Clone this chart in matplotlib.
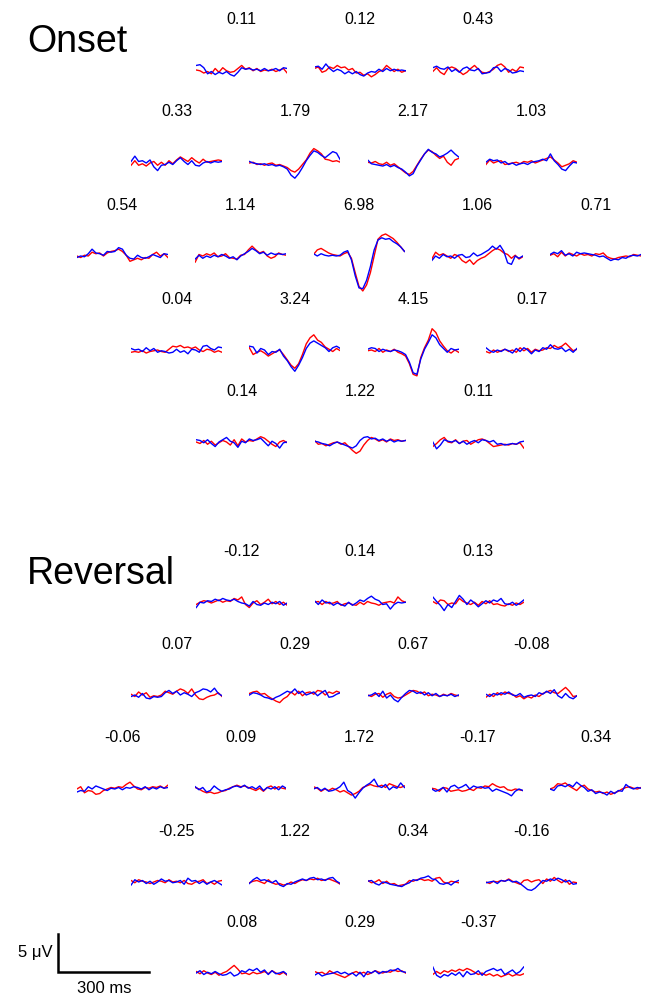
import matplotlib
matplotlib.use('Agg')
import matplotlib.pyplot as plt
import numpy as np

plt.rcParams['font.family'] = ['Liberation Sans', 'DejaVu Sans']

# time base of every trace (ms)
t = np.linspace(0, 300, 25)

onset_labels = ['0.11', '0.12', '0.43',
                '0.33', '1.79', '2.17', '1.03',
                '0.54', '1.14', '6.98', '1.06', '0.71',
                '0.04', '3.24', '4.15', '0.17',
                '0.14', '1.22', '0.11']

reversal_labels = ['-0.12', '0.14', '0.13',
                   '0.07', '0.29', '0.67', '-0.08',
                   '-0.06', '0.09', '1.72', '-0.17', '0.34',
                   '-0.25', '1.22', '0.34', '-0.16',
                   '0.08', '0.29', '-0.37']

# amplitudes in microvolts
onset_red = [
    [0.0, -0.1, -0.4, -0.2, -0.5, 0.2, -0.3, 0.3, -0.1, -0.3, -0.2, 0.2, 0.6, 0.1, 0.3, -0.1, 0.2, -0.2, 0.0, -0.1, 0.1, -0.2, 0.0, 0.2, -0.4],
    [0.2, 0.4, -0.3, -0.1, 0.4, 0.2, 0.6, 0.3, 0.4, 0.0, 0.2, -0.4, -0.3, -0.7, -0.5, -0.9, -0.6, -0.2, 0.0, 0.6, 0.2, -0.2, 0.1, -0.3, -0.1],
    [-0.2, 0.3, -0.3, -0.6, 0.2, 0.4, 0.2, -0.2, -0.6, -0.3, 0.2, 0.6, 0.1, -0.3, -0.4, -0.2, 0.1, 0.6, 0.8, 0.4, -0.3, 0.1, -0.2, 0.4, 0.3],
    [-0.3, 0.3, -0.3, -0.1, -0.4, 0.0, 0.2, -0.3, 0.1, -0.3, 0.3, -0.1, 0.4, 0.8, 0.5, 0.2, 0.7, 0.3, 0.0, 0.5, 0.1, 0.2, 0.3, 0.4, 0.3],
    [0.0, 0.1, -0.2, -0.1, -0.3, -0.1, 0.0, -0.3, -0.2, -0.4, -0.6, -1.0, -1.2, -0.8, -0.2, 0.4, 1.3, 1.9, 1.6, 1.2, 0.5, 0.4, 0.2, 0.3, 0.1],
    [0.1, 0.0, 0.2, -0.1, -0.2, 0.1, -0.3, -0.1, -0.5, -0.9, -1.3, -1.5, -1.1, -0.3, 0.5, 1.2, 1.7, 1.5, 1.0, 0.6, 0.9, 0.1, -0.3, 0.4, 0.6],
    [-0.2, 0.4, 0.0, 0.2, 0.3, -0.2, -0.1, 0.0, 0.1, -0.1, 0.2, 0.1, 0.3, 0.0, 0.2, 0.4, 0.6, 0.8, 0.4, 0.0, -0.5, -0.3, -0.1, 0.3, 0.1],
    [0.0, -0.2, 0.1, 0.0, 0.5, 0.3, 0.4, 0.0, 0.4, 0.6, 0.7, 0.9, 0.6, 0.1, -0.7, -0.5, -0.3, -0.5, -0.2, -0.3, 0.2, 0.5, 0.0, 0.3, -0.2],
    [-0.8, 0.2, 0.0, 0.3, 0.1, 0.4, -0.1, 0.0, 0.3, -0.2, -0.3, -0.4, 0.1, 0.2, 0.8, 1.3, 0.8, 0.4, 0.6, 0.0, -0.3, -0.1, 0.4, 0.2, 0.1],
    [0.2, 0.8, 1.0, 0.7, 0.4, 0.2, 0.1, 0.0, 0.3, 0.5, -0.3, -2.2, -4.0, -4.6, -3.8, -2.2, 0.0, 2.2, 2.7, 2.9, 2.6, 2.3, 1.8, 1.2, 0.6],
    [-0.4, 0.5, 0.1, 0.3, 0.0, -0.3, 0.2, 0.0, -0.6, -0.9, -0.5, -1.1, -0.6, -0.3, -0.1, 0.3, 0.7, 1.0, 0.8, 0.4, 0.2, -0.3, 0.1, -0.4, -0.1],
    [0.1, 0.3, -0.1, 0.5, 0.0, 0.4, 0.2, 0.0, 0.3, 0.1, 0.2, 0.0, 0.3, 0.2, 0.4, -0.1, -0.3, -0.4, -0.2, -0.1, 0.0, -0.1, 0.2, 0.1, 0.0],
    [-0.3, -0.2, -0.3, -0.1, -0.4, -0.2, -0.1, 0.0, -0.2, -0.3, 0.1, 0.5, 0.4, 0.6, 0.3, 0.4, 0.2, 0.4, 0.0, -0.2, 0.1, 0.0, -0.3, -0.1, -0.3],
    [0.3, -0.6, -0.3, -0.1, -0.4, -0.8, -0.5, -0.2, 0.0, -0.6, -1.3, -2.0, -2.4, -1.8, -0.6, 0.8, 1.6, 2.0, 1.3, 1.0, 0.4, 0.1, -0.2, 0.2, -0.1],
    [-0.1, 0.0, -0.2, 0.2, -0.3, 0.0, -0.2, 0.1, -0.3, -0.5, -0.8, -1.8, -3.2, -3.4, -1.0, 0.3, 1.3, 2.8, 2.3, 1.2, 0.5, -0.1, -0.4, 0.0, -0.3],
    [-0.2, -0.4, 0.0, -0.3, -0.1, 0.1, -0.2, 0.0, -0.3, 0.3, -0.1, 0.2, -0.3, 0.1, -0.1, 0.0, 0.3, 0.2, 0.6, 0.3, 0.5, 0.9, 0.4, -0.1, 0.1],
    [0.0, -0.2, 0.2, -0.3, 0.1, -0.4, -0.1, 0.2, 0.0, -0.4, 0.3, -0.5, 0.4, 0.0, 0.2, 0.1, 0.4, 0.7, 0.5, 0.1, -0.3, -0.6, 0.0, 0.2, -0.1],
    [0.2, -0.3, -0.2, -0.5, -0.3, -0.1, 0.0, -0.3, -0.1, -0.6, -1.1, -1.5, -1.2, -0.4, 0.2, 0.6, 0.4, 0.1, 0.3, 0.0, 0.4, 0.2, 0.3, 0.1, 0.2],
    [-0.6, -0.2, 0.3, 0.6, 0.0, -0.1, 0.3, -0.2, 0.1, 0.2, -0.3, 0.0, 0.3, 0.4, 0.2, -0.2, -0.6, -0.5, -0.4, -0.3, -0.4, -0.2, -0.3, -0.1, -0.8],
]

onset_blue = [
    [0.6, 0.7, 0.3, -0.5, -0.2, -0.6, -0.3, -0.5, -0.2, -0.6, -0.8, -0.3, 0.3, 0.1, 0.2, 0.0, 0.1, -0.1, 0.2, -0.1, 0.0, 0.2, -0.1, 0.3, 0.2],
    [0.4, 0.5, 0.1, 0.8, 0.2, -0.2, 0.1, -0.1, -0.5, -0.2, -0.5, -0.2, -0.6, -0.8, -0.4, -0.2, -0.3, 0.1, -0.2, 0.2, -0.1, 0.1, -0.1, 0.0, -0.1],
    [0.3, 0.5, 0.2, 0.1, 0.4, -0.2, 0.1, -0.3, 0.2, 0.4, 0.0, -0.1, 0.2, -0.5, -0.4, -0.3, 0.3, 0.4, -0.2, 0.2, 0.0, -0.4, -0.3, -0.1, -0.2],
    [0.2, 0.9, 0.2, 0.3, 0.0, 0.4, -0.5, -1.0, -0.3, -0.2, 0.1, -0.2, 0.3, 0.7, 0.2, -0.2, 0.3, -0.3, -0.4, 0.0, 0.2, 0.0, 0.2, 0.1, 0.2],
    [0.2, 0.0, -0.1, -0.2, -0.1, -0.3, -0.2, -0.4, -0.3, -0.5, -0.8, -1.6, -2.0, -1.4, -0.6, 0.3, 1.0, 1.6, 1.4, 1.0, 0.7, 1.1, 1.5, 1.3, 0.4],
    [0.4, -0.1, -0.2, -0.3, -0.4, -0.2, -0.5, -0.3, -0.6, -0.8, -1.2, -1.7, -1.4, -0.4, 0.4, 1.2, 1.8, 1.4, 1.2, 0.8, 1.0, 1.3, 1.7, 1.2, 0.8],
    [0.1, 0.5, 0.3, 0.4, 0.0, 0.2, -0.2, 0.0, -0.3, -0.1, 0.0, -0.2, 0.1, 0.2, 0.3, 0.5, 0.3, 1.2, 0.3, -0.2, -0.8, -1.0, -0.4, 0.1, 0.0],
    [-0.2, 0.0, -0.1, 0.3, 0.9, 0.4, 0.3, 0.1, 0.6, 0.5, 0.6, 1.1, 0.9, 0.1, -0.3, -0.4, 0.1, -0.2, -0.3, -0.1, 0.2, 0.0, -0.2, 0.3, 0.2],
    [-0.4, 0.1, -0.3, 0.0, -0.2, 0.1, -0.1, 0.2, 0.0, -0.3, -0.1, -0.5, 0.0, 0.3, 0.6, 1.0, 0.7, 0.3, 0.5, 0.1, 0.4, 0.2, 0.3, 0.2, 0.3],
    [0.3, 0.0, 0.3, 0.1, 0.0, 0.1, 0.0, 0.1, 0.5, 0.7, -0.5, -2.6, -4.2, -4.3, -3.2, -1.4, 0.8, 2.1, 2.4, 2.2, 2.3, 1.9, 1.6, 1.2, 0.6],
    [-0.6, 0.0, -0.3, 0.2, -0.1, 0.0, -0.3, 0.1, 0.2, -0.2, -0.1, 0.4, 0.0, 0.2, 0.5, 0.8, 1.3, 0.9, 1.4, 0.6, -0.9, -1.1, 0.0, -0.3, 0.0],
    [0.2, 0.5, 0.3, 0.7, 0.1, 0.3, 0.0, 0.5, 0.3, 0.4, 0.3, 0.2, 0.1, -0.1, 0.0, -0.3, -0.6, -0.4, -0.5, -0.2, -0.3, 0.0, 0.1, 0.0, 0.2],
    [0.2, 0.0, 0.1, -0.2, 0.3, -0.1, 0.2, -0.3, -0.1, -0.2, -0.4, -0.3, 0.1, -0.3, -0.1, -0.5, 0.1, 0.0, -0.3, 0.5, 0.6, 0.2, 0.0, 0.4, 0.3],
    [0.5, 0.4, -0.4, 0.2, 0.0, -0.6, -0.2, -0.3, 0.1, -0.8, -1.4, -2.2, -2.8, -2.0, -1.0, 0.2, 0.9, 1.2, 0.9, 0.6, 0.3, -0.2, 0.3, 0.5, 0.2],
    [0.1, 0.3, 0.2, -0.2, 0.1, -0.1, -0.2, 0.0, -0.1, -0.3, -0.6, -1.6, -3.0, -3.2, -1.2, 0.1, 1.0, 2.0, 1.6, 0.7, 0.2, -0.3, 0.2, 0.0, 0.1],
    [0.3, -0.1, -0.3, 0.0, -0.2, 0.1, -0.1, -0.4, 0.2, -0.2, 0.3, 0.0, -0.5, 0.0, -0.2, 0.3, 0.1, 0.7, 0.2, 0.1, 0.3, -0.2, 0.1, -0.3, 0.2],
    [0.3, 0.2, -0.1, 0.3, -0.2, -0.6, 0.0, 0.3, 0.6, 0.1, -0.1, -0.7, 0.1, -0.1, 0.4, 0.2, 0.3, 0.5, 0.0, -0.5, 0.1, -0.2, -0.8, -0.1, 0.0],
    [0.1, 0.0, -0.2, -0.3, -0.5, -0.2, 0.0, -0.2, -0.4, -0.6, -0.8, -0.5, 0.2, 0.6, 0.7, 0.4, 0.5, 0.2, 0.4, 0.1, 0.3, 0.0, 0.2, 0.1, 0.2],
    [0.0, -0.9, -0.4, 0.3, 0.1, 0.0, 0.2, -0.2, 0.1, -0.3, 0.0, 0.2, -0.1, 0.3, 0.2, 0.0, 0.2, -0.3, -0.2, -0.4, -0.3, -0.2, -0.3, 0.0, 0.1],
]

reversal_red = [
    [-0.2, 0.1, 0.3, 0.2, 0.0, 0.2, 0.4, 0.1, 0.3, 0.2, 0.6, 0.4, 0.8, -0.2, -0.6, 0.0, 0.3, -0.2, 0.1, 0.5, -0.1, 0.2, -0.2, 0.1, -0.3],
    [0.1, 0.2, -0.2, 0.2, -0.1, 0.0, 0.2, -0.3, -0.1, 0.0, -0.2, -0.3, 0.1, -0.2, 0.2, 0.0, -0.1, -0.3, 0.0, 0.1, 0.2, 0.0, 0.8, 0.3, 0.1],
    [0.2, -0.1, 0.4, 0.3, -0.2, 0.0, -0.1, 0.6, 0.2, 0.0, -0.2, 0.1, -0.3, 0.2, -0.1, 0.3, -0.2, -0.1, -0.3, -0.4, -0.1, -0.3, 0.0, -0.2, 0.1],
    [0.1, -0.2, 0.4, 0.0, 0.3, -0.3, -0.1, -0.2, 0.0, 0.5, 0.3, 0.1, 0.5, 0.8, 0.6, 0.2, 0.8, 0.0, -0.5, -0.6, -0.3, -0.1, 0.0, 0.3, -0.2],
    [0.2, 0.4, 0.5, 0.1, 0.2, -0.2, -0.5, -0.8, -1.0, -0.5, -0.2, 0.4, 0.0, 0.5, -0.1, 0.3, 0.4, 0.1, 0.6, 0.5, 0.0, 0.4, 0.2, 0.5, 0.3],
    [0.0, -0.2, 0.1, 0.2, -0.3, 0.1, 0.3, -0.2, -0.4, -0.3, 0.0, 0.3, 0.6, 0.5, 0.2, 0.4, -0.1, 0.1, 0.0, -0.2, 0.1, -0.1, 0.2, 0.0, -0.1],
    [-0.3, 0.1, -0.2, 0.3, 0.0, 0.4, 0.2, 0.1, -0.3, -0.1, -0.5, -0.2, -0.4, 0.0, -0.2, 0.2, 0.4, 0.6, 0.3, 0.2, 0.6, 1.0, 0.5, -0.2, -0.1],
    [0.0, 0.3, -0.5, -0.2, -0.3, -0.7, -0.6, -0.2, 0.0, 0.2, 0.1, 0.3, 0.2, 0.6, 0.9, 0.4, 0.0, -0.1, 0.2, 0.1, 0.3, 0.2, 0.4, 0.1, 0.5],
    [0.2, 0.0, -0.3, -0.5, -0.4, -0.6, -0.5, -0.3, -0.2, 0.1, 0.3, 0.5, 0.3, 0.4, 0.2, 0.0, -0.2, 0.1, -0.3, 0.2, 0.4, 0.0, 0.3, 0.1, 0.0],
    [0.3, 0.1, -0.3, 0.0, -0.2, 0.1, -0.1, -0.4, -0.2, -0.5, -0.8, -0.6, -0.3, 0.2, 0.4, 0.6, 0.4, 0.3, 0.5, 0.2, 0.7, 0.5, 0.3, 0.2, 0.4],
    [0.1, 0.0, -0.3, 0.2, 0.1, -0.3, -0.2, -0.1, -0.3, -0.2, 0.0, -0.2, 0.2, 0.1, 0.4, 0.3, 0.7, 0.4, 0.2, 0.3, -0.1, -0.2, 0.0, -0.1, -0.2],
    [0.0, 0.2, 0.7, 0.6, 0.8, 0.4, 0.1, -0.2, 0.3, 0.5, 0.0, -0.2, -0.4, -0.3, -0.6, -0.4, -0.7, -0.5, -0.3, 0.0, 0.2, 0.3, 0.1, 0.0, 0.2],
    [0.2, -0.1, 0.3, 0.1, 0.0, -0.2, 0.0, 0.2, 0.1, -0.1, 0.3, 0.0, 0.1, -0.1, 0.2, -0.2, -0.3, 0.0, 0.1, 0.3, -0.2, 0.0, -0.3, 0.1, 0.2],
    [-0.1, 0.1, 0.2, 0.0, -0.2, 0.3, -0.1, -0.3, -0.2, -0.4, -0.3, 0.0, -0.2, 0.1, 0.3, 0.2, 0.4, 0.3, 0.5, 0.2, 0.3, 0.4, 0.2, 0.0, -0.3],
    [0.2, -0.1, 0.0, 0.3, -0.2, 0.1, -0.3, -0.2, -0.5, -0.4, -0.3, 0.2, 0.1, 0.3, 0.4, 0.2, 0.3, 0.1, 0.5, 0.6, 0.0, -0.2, 0.1, 0.0, -0.1],
    [0.0, -0.2, 0.1, 0.0, 0.2, 0.1, 0.4, 0.1, -0.1, -0.3, 0.2, 0.3, 0.0, 0.2, 0.3, -0.2, 0.4, 0.1, 0.6, 0.2, -0.1, 0.3, -0.3, 0.0, -0.1],
    [0.2, -0.1, 0.3, 0.0, -0.2, 0.1, -0.3, 0.0, 0.2, 0.6, 1.0, 0.5, -0.1, 0.0, -0.2, 0.1, -0.1, 0.0, 0.2, -0.1, 0.3, 0.0, -0.2, 0.1, -0.3],
    [0.2, 0.0, 0.1, -0.2, 0.3, 0.0, -0.2, -0.4, -0.6, -0.3, 0.0, 0.2, -0.1, 0.1, -0.2, 0.0, 0.3, 0.1, 0.0, 0.2, 0.1, 0.4, 0.2, 0.3, 0.0],
    [-0.2, 0.2, -0.1, 0.3, 0.1, 0.4, 0.2, 0.5, 0.3, 0.6, 0.4, 0.1, -0.2, 0.0, -0.3, -0.1, -0.4, -0.2, -0.5, -0.3, -0.1, -0.4, -0.2, -0.3, -0.1],
]

reversal_blue = [
    [-0.6, 0.1, 0.0, 0.3, 0.2, 0.5, 0.3, 0.6, 0.4, 0.3, 0.5, 0.2, 0.0, -0.1, -0.4, 0.2, -0.2, -0.3, 0.0, -0.2, 0.1, -0.1, 0.2, -0.3, 0.0],
    [0.3, -0.2, 0.4, 0.0, 0.1, -0.3, 0.0, -0.2, -0.4, 0.1, -0.3, 0.0, 0.4, 0.2, 0.6, 0.9, 0.5, 0.3, -0.2, -0.1, -0.8, -0.2, 0.1, 0.0, 0.1],
    [0.8, 0.2, -0.3, -1.0, -0.2, -0.6, 0.2, 1.0, 0.5, -0.2, 0.4, 0.0, -0.5, -0.1, 0.3, 0.0, 0.4, 0.2, 0.6, -0.1, -0.2, 0.1, -0.3, 0.0, 0.4],
    [-0.2, 0.0, -0.3, 0.2, -0.4, -0.5, -0.2, -0.3, -0.2, 0.3, 0.6, 0.2, 0.5, 0.0, 0.3, 0.1, -0.2, 0.3, 0.5, 0.8, 0.7, 0.4, 0.9, 0.2, -0.1],
    [0.0, 0.3, 0.2, 0.0, -0.3, -0.4, -0.6, -0.3, -0.1, 0.2, 0.5, 0.3, 0.8, 0.2, 0.5, 0.0, 0.2, 0.4, -0.1, 0.3, 0.6, -0.3, -0.2, 0.1, 0.3],
    [-0.1, 0.0, 0.3, -0.2, 0.5, -0.4, 0.0, -0.6, -0.9, -0.3, 0.2, 0.6, 0.5, 0.2, 0.4, 0.0, 0.3, -0.1, 0.2, -0.2, 0.0, -0.1, 0.1, -0.2, 0.0],
    [0.1, -0.2, 0.2, 0.0, 0.3, 0.1, 0.4, 0.0, -0.1, 0.2, -0.3, -0.1, 0.0, -0.2, 0.3, 0.1, 0.5, 0.2, 0.7, -0.1, -0.4, 0.2, -0.3, -0.5, -0.1],
    [-0.4, -0.2, -0.3, 0.3, 0.0, 0.4, 0.2, 0.0, -0.2, 0.1, 0.0, 0.2, -0.1, 0.2, 0.1, 0.3, 0.2, 0.0, 0.3, -0.1, 0.2, 0.0, 0.3, 0.1, 0.2],
    [0.3, -0.1, 0.2, -0.4, -0.2, 0.4, 0.0, -0.3, -0.1, 0.0, 0.3, 0.4, 0.2, 0.5, 0.1, 0.3, 0.0, 0.4, -0.2, 0.2, 0.0, 0.3, -0.1, 0.4, 0.1],
    [0.0, 0.2, -0.2, 0.1, -0.3, -0.2, 0.0, 0.3, 0.9, -0.2, -0.5, -1.2, -0.5, 0.1, 0.5, 0.8, 1.3, 0.4, 0.2, 0.6, -0.1, 0.3, 0.1, 0.8, 0.2],
    [0.0, -0.3, -0.1, 0.2, -0.4, 0.3, 0.5, 0.1, 0.3, 0.6, 0.0, 0.4, 0.2, 0.3, 0.1, 0.2, -0.3, 0.0, -0.2, -0.4, -0.6, -0.9, -0.3, 0.0, -0.2],
    [0.0, -0.2, 0.4, 0.5, 0.3, 0.6, 0.3, 0.9, 0.5, 0.2, -0.3, -0.1, -0.6, -0.4, -0.5, -0.8, -0.3, -0.6, -0.2, -0.3, 0.6, 0.2, 0.0, 0.2, 0.1],
    [-0.4, 0.3, 0.0, 0.2, -0.2, 0.1, -0.3, 0.0, 0.4, 0.1, 0.2, -0.1, 0.0, 0.2, -0.3, 0.5, 0.1, 0.2, -0.2, 0.1, -0.3, 0.0, 0.2, -0.1, -0.4],
    [-0.2, 0.3, 0.6, 0.2, 0.3, 0.1, -0.1, 0.2, -0.4, -0.6, -0.2, -0.3, 0.0, 0.2, 0.4, 0.2, 0.5, 0.6, 0.3, 0.4, 0.2, 0.5, 0.6, 0.1, -0.2],
    [0.1, 0.2, -0.2, -0.4, 0.0, -0.1, -0.3, -0.4, -0.5, -0.6, -0.3, -0.1, 0.3, 0.2, 0.5, 0.6, 0.8, 0.4, 0.3, -0.2, -0.3, -0.1, -0.4, 0.0, 0.2],
    [-0.1, 0.0, 0.1, -0.2, 0.2, 0.1, 0.3, 0.0, 0.1, -0.2, -0.6, -1.0, -1.1, -0.8, -0.3, 0.2, 0.1, 0.4, 0.2, 0.5, 0.3, 0.0, 0.2, -0.3, -0.2],
    [0.0, 0.3, -0.2, 0.1, -0.1, 0.2, -0.1, -0.3, -0.2, 0.1, -0.4, -0.2, 0.3, 0.1, 0.5, 0.3, 0.6, 0.1, 0.4, -0.2, 0.3, -0.1, 0.0, 0.2, -0.2],
    [-0.3, 0.0, -0.4, -0.2, -0.1, 0.0, 0.2, -0.1, 0.1, -0.2, 0.0, -0.4, 0.1, -0.5, 0.2, 0.0, 0.3, -0.1, 0.2, 0.1, 0.4, 0.3, 0.6, 0.2, 0.1],
    [0.8, -0.3, -0.6, -0.2, -0.4, 0.0, -0.3, 0.1, -0.5, 0.2, -0.2, -0.1, 0.3, -0.3, 0.2, 0.4, 0.6, 0.3, 0.5, -0.2, 0.1, 0.4, -0.1, 0.2, 0.8],
]

# layout in pixels (origin top left)
W, H = 650, 996
row_sizes = [3, 4, 5, 4, 3]
row_mid = [360, 354, 359, 354, 360]
col_step = 118.3
trace_w = 91      # 300 ms
trace_h = 76      # 10 uV
uv_lim = 5

onset_rows = [70, 163, 256, 350, 442]
reversal_rows = [603, 695, 789, 882, 973]

fig = plt.figure(figsize=(W / 100, H / 100), dpi=100)


def add_box(left, top):
    return fig.add_axes([left / W, 1 - (top + trace_h) / H, trace_w / W, trace_h / H])


def draw_panel(title, title_y, rows, labels, red, blue):
    fig.text(27 / W, 1 - title_y / H, title, fontsize=27, ha='left', va='center')
    k = 0
    for r, n in enumerate(row_sizes):
        for j in range(n):
            cx = row_mid[r] + (j - (n - 1) / 2) * col_step
            cy = rows[r]
            ax = add_box(cx - trace_w / 2, cy - trace_h / 2)
            ax.plot(t, red[k], color='#ff0000', lw=1.0)
            ax.plot(t, blue[k], color='#0000ff', lw=1.0)
            ax.set_xlim(0, 300)
            ax.set_ylim(-uv_lim, uv_lim)
            ax.axis('off')
            fig.text(cx / W, 1 - (cy - 51) / H, labels[k], fontsize=11.5,
                     ha='center', va='center')
            k += 1


draw_panel('Onset', 42, onset_rows, onset_labels, onset_red, onset_blue)
draw_panel('Reversal', 574, reversal_rows, reversal_labels, reversal_red, reversal_blue)

# scale bar: 300 ms by 5 uV, same scale as the traces
sb = add_box(58, 972 - trace_h / 2)
sb.plot([0, 0, 300], [5, 0, 0], color='black', lw=1.8, clip_on=False,
        solid_joinstyle='miter')
sb.set_xlim(0, 300)
sb.set_ylim(-uv_lim, uv_lim)
sb.axis('off')
fig.text(53 / W, 1 - 952 / H, '5 \u03bcV', fontsize=12, ha='right', va='center')
fig.text(104 / W, 1 - 988 / H, '300 ms', fontsize=12, ha='center', va='center')

fig.savefig('out.png', dpi=100)
